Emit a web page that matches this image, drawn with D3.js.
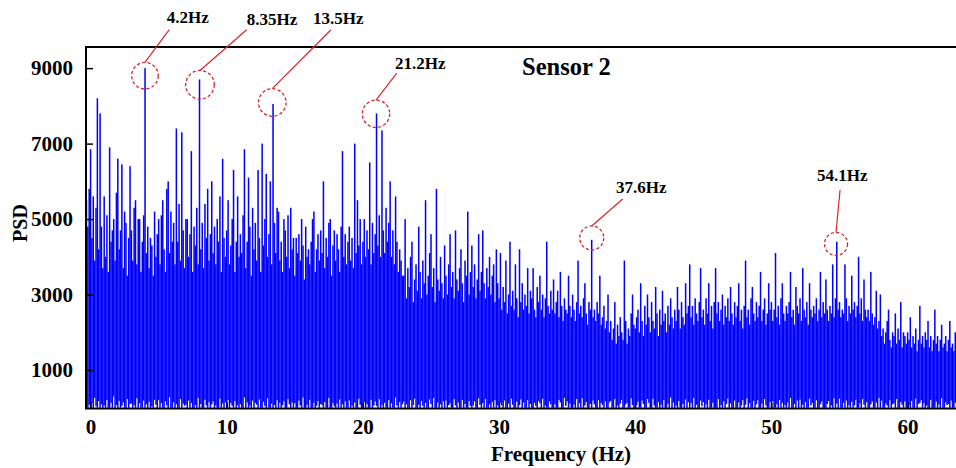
<!DOCTYPE html>
<html><head><meta charset="utf-8">
<script src="https://cdn.jsdelivr.net/npm/d3@7"></script>
<style>
body{margin:0;background:#fff}
text{font-family:"Liberation Serif","Times New Roman",serif;font-weight:bold;fill:#000}
</style>
</head><body>
<svg id="chart" width="956" height="468"></svg>
<script>
// ---- data ----
const freqStart = -0.3;   // Hz, first bin
const freqStep = 0.1;     // Hz per bin
// per-bin maximum of the PSD trace (one row = 1 Hz)
const psdPeak = [
 5500,4800,5800,
 6850,4500,5600,3900,5300,8200,4200,7800,4800,3700,
 5600,4000,5100,3600,6900,4400,4700,5000,3900,5700,
 6600,4200,4700,6450,3700,5200,4900,3500,4500,6400,
 4700,3900,5300,5500,3800,5000,5000,3600,4400,5100,
 9000,4100,4800,3700,4500,4300,3500,5200,4000,4600,
 5000,3800,5100,5500,4200,3600,5800,6000,4100,5200,
 4400,4900,3800,7400,4400,5400,3900,7300,4700,3700,
 5000,5000,4000,4600,6800,3600,4800,4300,5300,3800,
 8700,4200,4900,3700,5400,4500,5800,3900,4600,6000,
 4100,4800,3800,5000,4400,5600,3600,6600,4500,4000,
 4700,5500,3800,4300,5000,6300,3600,4400,5600,4000,
 4600,4100,5100,6850,3700,4400,6100,4800,3500,5300,
 4200,4900,3900,6300,4500,3600,7000,4300,5000,6200,
 4000,4600,6000,3800,8050,4900,4100,5300,5200,3900,
 4400,3600,5000,4700,4000,5100,3700,5300,4200,4500,
 3500,4500,4100,4600,3900,5000,4300,3400,4800,4000,
 4200,3800,4400,5000,5200,3600,4200,4600,3900,4700,
 4100,6000,3700,4500,4000,4900,5000,3500,4300,4700,
 3900,4600,4200,3600,4800,6800,4000,4600,3800,4400,
 4800,3900,4500,3700,7000,4100,5500,4300,5000,3800,
 4400,5000,4000,4700,4200,6500,3800,4900,4100,4600,
 7800,4300,5100,4000,7350,4700,4100,5300,4400,4900,
 6000,4000,4700,3800,5600,4400,3600,4200,3900,3500,
 3500,5000,2900,3700,3200,4000,4400,2800,3400,3800,
 3100,4800,3600,2900,3900,3300,5500,3000,3500,4100,
 4600,3200,3700,2800,5800,3400,3100,4000,3300,2900,
 4300,3500,3000,3800,4600,3200,3600,2900,4700,3400,
 3100,3700,4200,3300,2800,3900,3500,5200,3000,3600,
 4300,3200,3800,2900,3400,4600,3100,3600,4700,3300,
 2900,3700,3200,4000,3000,3500,3800,2800,4200,3300,
 2900,4100,2600,3200,2800,3900,2500,3000,4400,2700,
 3100,2600,3800,2900,2400,4200,2800,3300,2600,3000,
 2700,3700,2500,3100,2900,3700,2600,2400,3200,2800,
 3500,2600,3000,2400,2900,4400,2700,2500,3100,2600,
 3400,2500,2800,3100,2400,3600,2700,2300,2900,2600,
 2500,3500,2700,2400,3000,2600,2300,2800,3900,2500,
 2700,2400,2900,3300,2500,2200,2800,2600,4450,2400,
 2600,2300,2800,2500,3500,2200,2400,2700,2100,2300,
 3000,2000,2300,1800,2100,2800,1700,2200,1900,2400,
 2000,1800,3900,2300,1700,2100,1900,2500,3000,2200,
 2100,2400,2600,2000,3300,2300,1900,2700,2200,3000,
 2400,2000,2800,2300,2100,3200,2500,1900,2600,2200,
 3100,2300,2500,2000,2700,2200,2900,2400,2100,2600,
 2300,3200,2600,2100,2800,2400,2200,3300,2500,2700,
 3800,2400,2700,2200,2900,2500,2300,2800,3700,2400,
 2600,2200,2900,2500,3300,2300,2700,2100,2800,3700,
 2500,2800,2300,2600,3000,2200,2700,2400,2900,2300,
 3200,2500,2200,2800,2400,2700,3300,2300,2600,2100,
 2700,3900,2400,2600,2200,2900,3200,2500,2300,2800,
 2400,2700,3600,2300,2600,2900,2200,2500,3300,2600,
 2800,2300,2600,4100,2400,2700,2200,2900,3300,2500,
 2300,2700,2500,2800,3600,2400,2600,2200,3200,2700,
 2500,2900,2300,3700,2600,2400,2800,2200,3300,2600,
 2400,2700,2500,2900,2300,2600,3600,2400,2800,2500,
 3400,2600,2300,2700,2500,3800,2400,2900,4400,2600,
 2800,2400,2600,2500,3800,2900,2300,2700,2500,3500,
 2600,2800,2400,2700,4000,2500,2900,2300,3400,2600,
 2400,2600,2300,3600,2500,2200,2400,3100,2100,2300,
 3000,1900,2100,1700,2000,2300,2600,1800,1600,2000,
 1900,2500,1700,2100,1800,2800,1600,2000,1900,1700,
 2000,1800,2400,1600,1900,1700,2100,1500,1800,2700,
 1700,1900,1600,2000,1800,2300,1600,1900,1500,1800,
 2600,1700,1900,1500,1800,2200,1600,1700,1900,1500,
 1800,2300,1600,1700,1500,2000,1700
];
// per-bin minimum of the PSD trace
const psdFloor = [
 150,0,80,
 0,120,0,260,40,0,180,0,90,0,
 60,0,210,0,0,130,0,300,0,70,
 0,180,0,50,140,0,0,230,0,100,
 110,0,70,0,250,0,120,0,0,190,
 0,90,0,160,0,40,0,210,80,0,
 200,0,120,0,0,170,60,0,280,0,
 0,140,0,90,0,0,230,0,110,50,
 80,0,190,0,130,0,0,70,0,260,
 0,100,0,0,210,60,0,150,0,90,
 170,0,60,0,0,240,0,110,0,140,
 0,200,0,120,50,0,180,0,70,0,
 90,0,0,270,0,140,0,60,0,190,
 0,130,80,0,220,0,0,160,50,0,
 250,0,0,110,0,70,0,200,0,130,
 0,60,170,0,0,230,90,0,140,0,
 120,0,0,190,60,0,270,0,0,80,
 0,210,0,0,130,0,50,180,0,100,
 70,0,150,0,0,260,0,0,120,40,
 0,110,0,220,0,90,0,170,0,0,
 190,0,60,0,140,0,0,240,80,0,
 0,150,0,100,0,0,210,0,60,170,
 50,0,230,0,80,0,130,0,0,200,
 0,120,0,0,270,60,0,150,0,90,
 160,0,90,0,0,200,0,70,240,0,
 0,80,0,180,50,0,130,0,0,220,
 100,0,260,0,0,140,0,90,0,170,
 0,190,0,70,120,0,0,230,60,0,
 140,0,0,210,0,100,0,0,180,50,
 0,60,170,0,0,250,80,0,120,0,
 230,0,0,90,0,150,0,200,0,70,
 0,130,60,0,190,0,0,110,0,240,
 80,0,0,160,0,70,220,0,140,0,
 0,200,0,100,0,0,130,50,0,180,
 120,0,240,0,60,0,0,170,90,0,
 0,90,0,0,210,140,0,0,260,50,
 170,0,110,0,0,80,0,230,0,120,
 0,250,0,60,150,0,0,100,0,190,
 90,0,0,200,0,120,70,0,170,0,
 0,140,180,0,0,230,0,60,0,110,
 210,0,0,90,130,0,0,250,70,0,
 0,70,160,0,0,190,100,0,0,230,
 130,0,0,240,60,0,0,150,0,80,
 0,200,0,0,110,0,270,0,140,0,
 60,0,180,0,0,100,0,220,0,150,
 0,120,0,260,0,80,0,0,190,40,
 150,0,90,0,210,0,0,130,0,0,
 0,230,0,70,0,170,0,100,240,0,
 110,0,0,190,0,0,140,0,60,200,
 0,80,250,0,120,0,0,180,0,90,
 200,0,0,110,0,230,60,0,0,150,
 0,170,0,0,90,0,210,0,130,0,
 70,0,140,0,260,0,0,100,0,190,
 0,220,0,80,0,150,0,0,240,60,
 130,0,0,200,0,0,90,170,0,0,
 0,100,180,0,60,0,250,0,110,0,
 240,0,0,130,0,190,0,70,0,160,
 0,60,210,0,0,120,0,230,80,0,
 150,0,0,90,170,0,0,140,0,260,
 0,190,0,0,110,60,0,200,0,90,
 120,0,230,0,0,150,80,0,170,0,
 0,70,0,180,0,0,240,0,100,130,
 200,0,120,0,60,0,0,210,0,0,
 0,160,0,90,0,250,0,0,140,70,
 100,0,190,0,0,130,0
];
const yTicks = [1000, 3000, 5000, 7000, 9000];
const xTicks = [0, 10, 20, 30, 40, 50, 60];
// annotated peaks (circle centres, in data units)
const peakFreq = [4.00, 8.04, 13.35, 20.97, 36.81, 54.75];
const peakPSD = [8800, 8560, 8090, 7790, 4500, 4340];
const peakLabels = ["4.2Hz", "8.35Hz", "13.5Hz", "21.2Hz", "37.6Hz", "54.1Hz"];
const chartTitle = "Sensor 2";
const xTitle = "Frequency (Hz)";
const yTitle = "PSD";

// ---- layout ----
const L = 86, R = 956, T = 47, B = 408.5;
const annLayout = [ // circle radius, leader start (dx,dy), label (dx,dy) in px relative to circle centre
 {r:13.3, lx:24.3, ly:-46,  tx:21.7, ty:-52.5},
 {r:14.3, lx:46.7, ly:-55,  tx:46.7, ty:-60},
 {r:13.8, lx:58.7, ly:-72.7,tx:40.7, ty:-78.7},
 {r:13.7, lx:20.7, ly:-40.7,tx:19,   ty:-45},
 {r:12,   lx:31,   ly:-39,  tx:24.3, ty:-45.3},
 {r:11.5, lx:4,    ly:-54,  tx:-19,  ty:-63}
];

const svg = d3.select("#chart");
const x = d3.scaleLinear().domain([-0.33, 63.56]).range([L, R]);
const y = d3.scaleLinear().domain([-20, 9560]).range([B, T]);

svg.append("defs").append("clipPath").attr("id","plot")
  .append("rect").attr("x",L).attr("y",T).attr("width",R-L).attr("height",B-T);

const bins = psdPeak.map((v,i)=>({f: freqStart + i*freqStep, hi: v, lo: psdFloor[i] || 0}));
const bw = x(freqStep) - x(0);

svg.append("g").attr("clip-path","url(#plot)")
  .selectAll("rect").data(bins).join("rect")
  .attr("x", d => x(d.f) - bw/2)
  .attr("width", bw + 0.15)
  .attr("y", d => y(d.hi))
  .attr("height", d => y(d.lo) - y(d.hi))
  .attr("fill", "#0000ff");

// axes
const yAxis = d3.axisLeft(y).tickValues(yTicks).tickSize(-7).tickPadding(13).tickFormat(d3.format("d"));
const gy = svg.append("g").attr("transform",`translate(${L},0)`).call(yAxis);
gy.select(".domain").remove();
gy.selectAll("line").attr("stroke","#000").attr("stroke-width",1.5);
gy.selectAll("text").style("font-size","21px").attr("fill","#000");

const xAxis = d3.axisBottom(x).tickValues(xTicks).tickSize(-6).tickPadding(11).tickFormat(d3.format("d"));
const gx = svg.append("g").attr("transform",`translate(0,${B})`).call(xAxis);
gx.select(".domain").remove();
gx.selectAll("line").attr("stroke","#000").attr("stroke-width",1.5);
gx.selectAll("text").style("font-size","21px").attr("fill","#000");

// frame lines
svg.append("line").attr("x1",L).attr("x2",L).attr("y1",T).attr("y2",B+0.5).attr("stroke","#000").attr("stroke-width",2);
svg.append("line").attr("x1",L-1).attr("x2",R).attr("y1",B).attr("y2",B).attr("stroke","#000").attr("stroke-width",2);
svg.append("line").attr("x1",L-1).attr("x2",R).attr("y1",T).attr("y2",T).attr("stroke","#000").attr("stroke-width",2);

// titles
svg.append("text").attr("x",561).attr("y",461).attr("text-anchor","middle").style("font-size","21px").text(xTitle);
svg.append("text").attr("transform","translate(27,223) rotate(-90)").attr("text-anchor","middle").style("font-size","20px").text(yTitle);
svg.append("text").attr("x",522).attr("y",75).style("font-size","24.5px").text(chartTitle);

// annotations
const ann = svg.append("g");
peakFreq.forEach((f,i)=>{
  const cx = x(f), cy = y(peakPSD[i]), a = annLayout[i];
  ann.append("circle").attr("cx",cx).attr("cy",cy).attr("r",a.r)
    .attr("fill","none").attr("stroke","#d8262a").attr("stroke-width",1.3).attr("stroke-dasharray","3.2,2.2");
  ann.append("line").attr("x1",cx+a.lx).attr("y1",cy+a.ly).attr("x2",cx).attr("y2",cy-a.r)
    .attr("stroke","#d8262a").attr("stroke-width",1.2);
  ann.append("text").attr("x",cx+a.tx).attr("y",cy+a.ty).style("font-size","17px").text(peakLabels[i]);
});
</script>
</body></html>
